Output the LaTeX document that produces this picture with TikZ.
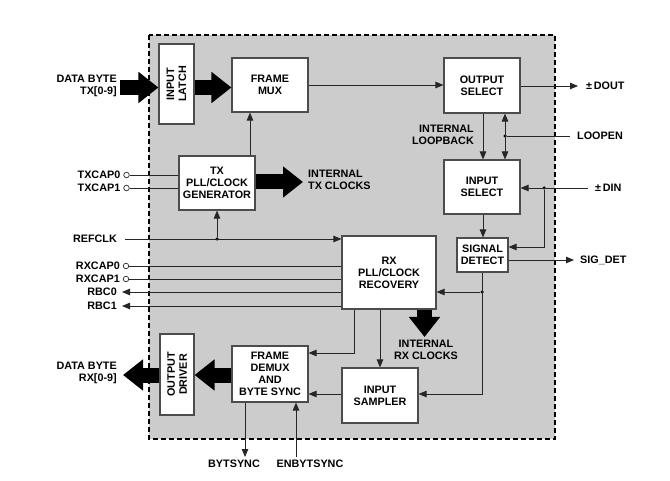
\documentclass[tikz,border=0pt]{standalone}
\usepackage{fontspec}
\setmainfont{Liberation Sans}
\usetikzlibrary{arrows.meta,calc}
\begin{document}
\begin{tikzpicture}[x=1pt,y=-1pt,
  txt/.style={font=\bfseries\fontsize{10.8}{12}\selectfont, inner sep=0pt},
  blk/.style={txt, draw=black!70, fill=white, line width=1.1pt, align=center},
  ln/.style={draw=black!85, line width=0.8pt},
  arr/.style={ln, -{Triangle[length=8pt,width=6.5pt]}},
  darr/.style={ln, {Triangle[length=8pt,width=6.5pt]}-{Triangle[length=8pt,width=6.5pt]}},
  bigarr/.style={draw=black, line width=15pt, -{Triangle[length=20pt,width=30pt]}},
  jdot/.style={circle, fill=black, inner sep=0pt, minimum size=3.5pt},
  pinc/.style={circle, draw=black!85, line width=0.7pt, fill=white, inner sep=0pt, minimum size=5.5pt},
]
\useasboundingbox (0,0) rectangle (670,481);
\fill[white] (0,0) rectangle (670,481);
% outer box
\draw[fill=black!20, line width=2pt, dash pattern=on 5pt off 3pt] (149,35) rectangle (555,439);

% blocks
\node[blk, rotate=90, minimum width=80pt, minimum height=35pt] (latch) at (176.5,84) {INPUT\\LATCH};
\node[blk, minimum width=76pt, minimum height=54pt] (fmux) at (270,85) {FRAME\\MUX};
\node[blk, minimum width=76pt, minimum height=54pt] (txpll) at (217,183) {TX\\PLL/CLOCK\\GENERATOR};
\node[blk, minimum width=76pt, minimum height=55pt] (outsel) at (482,85.5) {OUTPUT\\SELECT};
\node[blk, minimum width=76pt, minimum height=54pt] (insel) at (482,187) {INPUT\\SELECT};
\node[blk, minimum width=51pt, minimum height=34pt] (sigdet) at (482.5,255) {SIGNAL\\DETECT};
\node[blk, minimum width=94pt, minimum height=73pt] (rxpll) at (389,272.5) {RX\\PLL/CLOCK\\RECOVERY};
\node[blk, minimum width=76pt, minimum height=55pt] (insamp) at (380,395.5) {INPUT\\SAMPLER};
\node[blk, minimum width=76pt, minimum height=56pt] (fdemux) at (270,374) {FRAME\\DEMUX\\AND\\BYTE SYNC};
\node[blk, rotate=90, minimum width=81pt, minimum height=34pt] (outdrv) at (177,374.5) {OUTPUT\\DRIVER};

% labels
\node[txt, anchor=east, align=right] (txdata) at (117,86) {DATA BYTE\\TX[0-9]};
\node[txt, anchor=east] (tcap0l) at (120.5,175) {TXCAP0};
\node[txt, anchor=east] (tcap1l) at (120.5,188) {TXCAP1};
\node[txt, anchor=west, align=left] (txclkl) at (308,180) {INTERNAL\\TX CLOCKS};
\node[txt, anchor=east] (refl) at (117,239) {REFCLK};
\node[txt, anchor=east] (rcap0l) at (120,266) {RXCAP0};
\node[txt, anchor=east] (rcap1l) at (120,279) {RXCAP1};
\node[txt, anchor=east] (rbc0l) at (117,292) {RBC0};
\node[txt, anchor=east] (rbc1l) at (117,306) {RBC1};
\node[txt, anchor=east, align=right] (rxdata) at (117,373) {DATA BYTE\\RX[0-9]};
\node[txt] (bytl) at (234,464) {BYTSYNC};
\node[txt] (enbl) at (310,464) {ENBYTSYNC};
\node[txt, align=center] (rxclkl) at (426,350) {INTERNAL\\RX CLOCKS};
\node[txt, anchor=east, align=right] (loopl) at (474,135) {INTERNAL\\LOOPBACK};
\node[txt, anchor=west] (doutl) at (586,86) {±\,DOUT};
\node[txt, anchor=west] (loopenl) at (577,136) {LOOPEN};
\node[txt, anchor=west] (dinl) at (595,188) {±\,DIN};
\node[txt, anchor=west] (sigl) at (580,260) {SIG\_DET};

% coordinates
\coordinate (txin) at (120,87.5);
\coordinate (txclk) at (303,182);
\coordinate (rxclk) at (424.5,337);
\coordinate (rxout) at (123,375);
\coordinate (refc) at (125,239);
\coordinate (rbc0) at (122,292);
\coordinate (rbc1) at (122,306);
\coordinate (doutc) at (578,86);
\coordinate (loopc) at (570,136);
\coordinate (dinc) at (588,188);
\coordinate (sigc) at (574,260);
\coordinate (bytc) at (245,457);
\coordinate (enbc) at (296,457);

% pins
\node[pinc] (tc0) at (126.5,175) {};
\node[pinc] (tc1) at (126.5,188) {};
\node[pinc] (rc0) at (126,266) {};
\node[pinc] (rc1) at (126,279) {};

% big arrows (rotated nodes: north = left edge, south = right edge)
\draw[bigarr] (txin) -- (txin -| latch.north);
\draw[bigarr] (txin -| latch.south) -- (txin -| fmux.west);
\draw[bigarr] (txpll.east |- txclk) -- (txclk);
\draw[bigarr] (rxclk |- rxpll.south) -- (rxclk);
\draw[bigarr] (rxout -| fdemux.west) -- (rxout -| outdrv.south);
\draw[bigarr] (rxout -| outdrv.north) -- (rxout);

% TX side
\draw[arr] (txpll.north -| 250,0) -- (fmux.south -| 250,0);
\draw[ln] (tc0) -- (tc0 -| txpll.west);
\draw[ln] (tc1) -- (tc1 -| txpll.west);
\node[jdot] (refdot) at (refc -| txpll.south) {};
\draw[arr] (refc) -- (refc -| rxpll.west);
\draw[arr] (refdot) -- (txpll.south);
\draw[arr] (fmux.east) -- (fmux.east -| outsel.west);

% RX pins
\draw[ln] (rc0) -- (rc0 -| rxpll.west);
\draw[ln] (rc1) -- (rc1 -| rxpll.west);
\draw[arr] (rbc0 -| rxpll.west) -- (rbc0);
\draw[arr] (rbc1 -| rxpll.west) -- (rbc1);

% RX lower
\draw[arr] (rxpll.south -| 354,0) |- (fdemux.east |- 0,353);
\draw[arr] (rxpll.south -| insamp.north) -- (insamp.north);
\draw[arr] (insamp.west |- 0,394) -- (fdemux.east |- 0,394);
\draw[arr] (fdemux.south -| bytc) -- (bytc);
\draw[arr] (enbc) -- (fdemux.south -| enbc);

% right side
\draw[arr] (outsel.east |- doutc) -- (doutc);
\draw[arr] (outsel.south -| 483,0) -- (insel.north -| 483,0);
\node[jdot] (loopdot) at (505,136) {};
\draw[darr] (outsel.south -| loopdot) -- (insel.north -| loopdot);
\draw[ln] (loopc) -- (loopdot);
\node[jdot] (dindot) at (544,188) {};
\draw[arr] (dinc) -- (dinc -| insel.east);
\draw[arr] (dindot) |- (sigdet.east |- 0,247);
\draw[arr] (insel.south -| 483,0) -- (sigdet.north -| 483,0);
\draw[arr] (sigdet.east |- sigc) -- (sigc);
\node[jdot] (sddot) at (482,292) {};
\draw[arr] (sigdet.south -| sddot) |- (insamp.east |- 0,394);
\draw[arr] (sddot) -- (sddot -| rxpll.east);
\end{tikzpicture}
\end{document}
